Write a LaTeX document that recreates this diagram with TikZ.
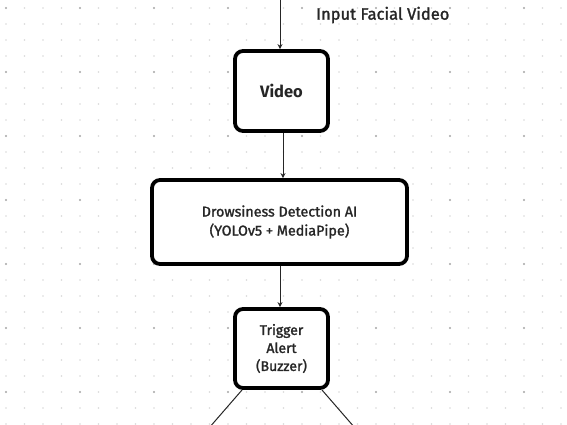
\documentclass[tikz,border=0pt]{standalone}
\usepackage{fontspec}
\setmainfont{Fira Sans}
\newfontfamily\medfont{Fira Sans}[FakeBold=1.5]
\usetikzlibrary{arrows.meta}
\begin{document}
\begin{tikzpicture}[x=1pt,y=-1pt,
  box/.style={draw=black,line width=3.8pt,rounded corners=8pt,fill=white,inner sep=0pt,align=center,text=black!85},
  conn/.style={draw=black!85,line width=1pt},
  arr/.style={conn,-{Stealth[length=5pt,width=5pt]}}]
\useasboundingbox (0,0) rectangle (567,425);
\fill[white] (0,0) rectangle (567,425);
\foreach \i in {0,...,30}{
  \foreach \j in {0,...,26}{
    \pgfmathtruncatemacro\mi{mod(\i,4)}
    \pgfmathtruncatemacro\mj{mod(\j,4)}
    \ifnum\mi=0 \ifnum\mj=0
      \fill[black!35] (6+18.5*\i,8+16*\j) circle (1.1pt);
    \else
      \fill[black!15] (6+18.5*\i,8+16*\j) circle (0.9pt);
    \fi\else
      \fill[black!15] (6+18.5*\i,8+16*\j) circle (0.9pt);
    \fi
  }
}
\node[box,minimum width=93pt,minimum height=80pt,font=\fontsize{16.5}{18}\bfseries] (video) at (281.5,91) {Video};
\node[box,minimum width=255pt,minimum height=84pt,font=\fontsize{14.3}{19}\medfont] (ai) at (279.5,222) {Drowsiness Detection AI\\(YOLOv5 + MediaPipe)};
\node[box,minimum width=93pt,minimum height=79pt,font=\fontsize{14}{18}\medfont] (alert) at (281.5,348.5) {Trigger\\Alert\\(Buzzer)};
\node[font=\fontsize{16.5}{18}\medfont,anchor=west,inner sep=0pt,text=black!85] (label) at (316,15) {Input Facial Video};
\coordinate (src) at (280,-2);
\coordinate (outL) at (209,428);
\coordinate (outR) at (355,428);
\draw[arr] (src) -- (video.north -| src);
\draw[arr] (video.south -| 283,0) -- (ai.north -| 283,0);
\draw[arr] (ai.south -| 280,0) -- (alert.north -| 280,0);
\draw[conn] (242,390) -- (outL);
\draw[conn] (322,390) -- (outR);
\end{tikzpicture}
\end{document}
